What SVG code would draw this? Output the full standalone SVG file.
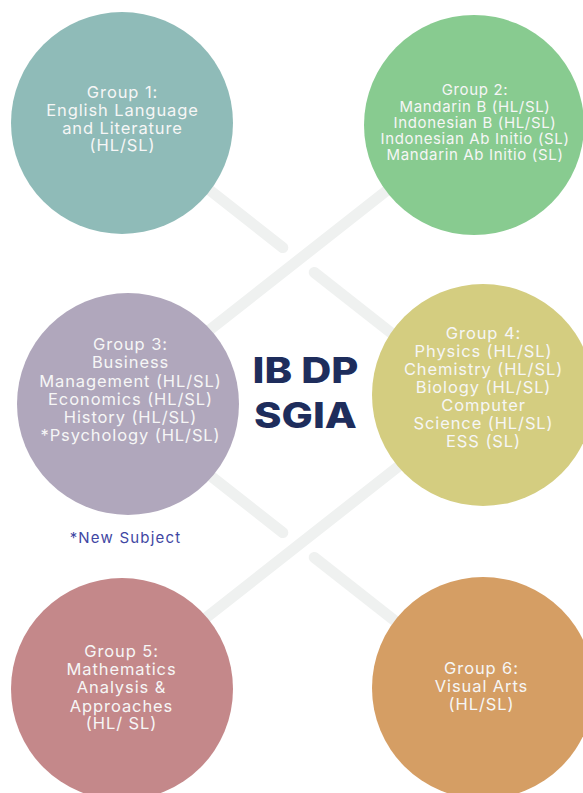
<svg xmlns="http://www.w3.org/2000/svg" width="583" height="793" viewBox="0 0 583 793">
<style>
.bg{fill:#ffffff}
.conn{stroke:#eff1f0;stroke-width:11;stroke-linecap:round;fill:none}
.lbl{font-family:Inter,"Noto Sans",sans-serif;font-size:16.5px;letter-spacing:0.9px;fill:#f6f6f6;text-anchor:middle}
.sm{font-size:15px;letter-spacing:0.65px}
.title{font-family:Inter,"Noto Sans",sans-serif;font-weight:800;font-size:35px;fill:#1e2d5c;text-anchor:middle}
.note{font-family:Inter,"Noto Sans",sans-serif;font-size:15px;letter-spacing:1.2px;fill:#3f47a3;text-anchor:middle}
</style>
<rect class="bg" x="0" y="0" width="583" height="793"/>
<g id="connectors">
  <line class="conn" x1="180.6" y1="167.3" x2="282.8" y2="247.6"/>
  <line class="conn" x1="314.2" y1="272.4" x2="416.4" y2="352.7"/>
  <line class="conn" x1="416.4" y1="167.3" x2="180.6" y2="352.7"/>
  <line class="conn" x1="180.6" y1="452.3" x2="282.8" y2="532.6"/>
  <line class="conn" x1="314.2" y1="557.4" x2="416.4" y2="637.7"/>
  <line class="conn" x1="416.4" y1="452.3" x2="180.6" y2="637.7"/>
</g>
<g id="group1">
  <circle cx="122" cy="123" r="111" fill="#8fbbb8"/>
  <text class="lbl" x="122.5" y="98">Group 1:</text>
  <text class="lbl" x="122.5" y="116">English Language</text>
  <text class="lbl" x="122.5" y="134">and Literature</text>
  <text class="lbl" x="122.5" y="151">(HL/SL)</text>
</g>
<g id="group2">
  <circle cx="474" cy="125" r="110" fill="#88cb90"/>
  <text class="lbl sm" x="475" y="95">Group 2:</text>
  <text class="lbl sm" x="475" y="112">Mandarin B (HL/SL)</text>
  <text class="lbl sm" x="475" y="128">Indonesian B (HL/SL)</text>
  <text class="lbl sm" x="475" y="144">Indonesian Ab Initio (SL)</text>
  <text class="lbl sm" x="475" y="160">Mandarin Ab Initio (SL)</text>
</g>
<g id="group3">
  <circle cx="128" cy="404" r="111" fill="#b0a7bc"/>
  <text class="lbl" x="130.5" y="350">Group 3:</text>
  <text class="lbl" x="130.5" y="368">Business</text>
  <text class="lbl" x="130.5" y="386.5">Management (HL/SL)</text>
  <text class="lbl" x="130.5" y="404.5">Economics (HL/SL)</text>
  <text class="lbl" x="130.5" y="422.5">History (HL/SL)</text>
  <text class="lbl" x="130.5" y="440.5">*Psychology (HL/SL)</text>
</g>
<g id="group4">
  <circle cx="483" cy="395" r="111" fill="#d4cd80"/>
  <text class="lbl" x="483.5" y="339">Group 4:</text>
  <text class="lbl" x="483.5" y="357">Physics (HL/SL)</text>
  <text class="lbl" x="483.5" y="374.5">Chemistry (HL/SL)</text>
  <text class="lbl" x="483.5" y="392.5">Biology (HL/SL)</text>
  <text class="lbl" x="483.5" y="410.5">Computer</text>
  <text class="lbl" x="483.5" y="428.5">Science (HL/SL)</text>
  <text class="lbl" x="483.5" y="446.5">ESS (SL)</text>
</g>
<g id="group5">
  <circle cx="122" cy="689" r="111" fill="#c4888a"/>
  <text class="lbl" x="121.5" y="656.5">Group 5:</text>
  <text class="lbl" x="121.5" y="675">Mathematics</text>
  <text class="lbl" x="121.5" y="693">Analysis &amp;</text>
  <text class="lbl" x="121.5" y="711.5">Approaches</text>
  <text class="lbl" x="121.5" y="729">(HL/ SL)</text>
</g>
<g id="group6">
  <circle cx="483" cy="688" r="111" fill="#d59e64"/>
  <text class="lbl" x="481.5" y="674">Group 6:</text>
  <text class="lbl" x="481.5" y="692">Visual Arts</text>
  <text class="lbl" x="481.5" y="710">(HL/SL)</text>
</g>
<g id="title">
  <text class="title" transform="matrix(1.19 0 0 1 305.5 0)" x="0" y="383">IB DP</text>
  <text class="title" transform="matrix(1.19 0 0 1 305.5 0)" x="0" y="428">SGIA</text>
</g>
<g id="note">
  <text class="note" x="125.5" y="543">*New Subject</text>
</g>
</svg>
